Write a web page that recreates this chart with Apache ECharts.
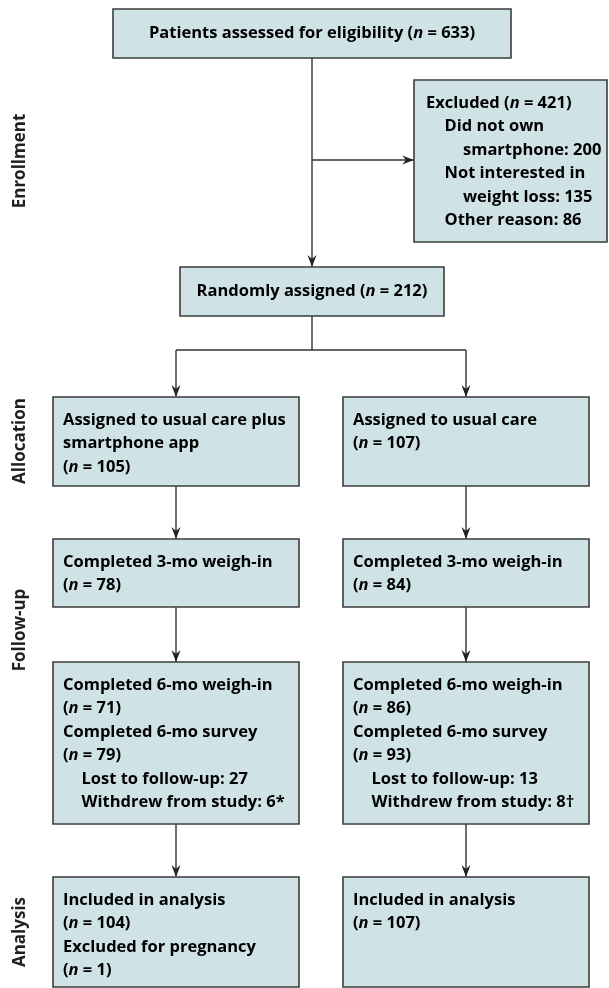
<!DOCTYPE html>
<html>
<head>
<meta charset="utf-8">
<script src="https://cdn.jsdelivr.net/npm/echarts@6/dist/echarts.min.js"></script>
<style>
  html, body { margin: 0; padding: 0; background: #fff; }
  #chart { width: 609px; height: 988px; }
</style>
</head>
<body>
<div id="chart"></div>
<script>
// flow counts
var stages = ['Enrollment', 'Allocation', 'Follow-up', 'Analysis'];
var assessed = 633;
var excluded = 421;
var excludedCounts = [200, 135, 86];
var randomized = 212;
var allocated = [105, 107];
var weighIn3 = [78, 84];
var weighIn6 = [71, 86];
var survey6 = [79, 93];
var lostFollowUp = [27, 13];
var withdrew = ['6*', '8\u2020'];
var analysed = [104, 107];
var pregnancy = [1];

// text helpers, {i|n} is the italic n
function t(s) { return '{b|' + s + '}'; }
function n(pre, val) { return '{b|' + pre + '(}{i|n}{b| = ' + val + ')}'; }

// layout: x0, y0, x1, y1 in page pixels; lines = [text, indent]
var colL = [53, 299], colR = [343, 589];
var boxes = [
  { x0: 113, y0: 9, x1: 511, y1: 58, center: true,
    lines: [[n('Patients assessed for eligibility ', assessed), 0]] },
  { x0: 414, y0: 80, x1: 607, y1: 242,
    lines: [[n('Excluded ', excluded), 0], [t('Did not own'), 1], [t('smartphone: ' + excludedCounts[0]), 2],
            [t('Not interested in'), 1], [t('weight loss: ' + excludedCounts[1]), 2], [t('Other reason: ' + excludedCounts[2]), 1]] },
  { x0: 180, y0: 267, x1: 444, y1: 316, center: true,
    lines: [[n('Randomly assigned ', randomized), 0]] },
  { x0: colL[0], y0: 397, x1: colL[1], y1: 486,
    lines: [[t('Assigned to usual care plus'), 0], [t('smartphone app'), 0], [n('', allocated[0]), 0]] },
  { x0: colR[0], y0: 397, x1: colR[1], y1: 486,
    lines: [[t('Assigned to usual care'), 0], [n('', allocated[1]), 0]] },
  { x0: colL[0], y0: 539, x1: colL[1], y1: 607,
    lines: [[t('Completed 3-mo weigh-in'), 0], [n('', weighIn3[0]), 0]] },
  { x0: colR[0], y0: 539, x1: colR[1], y1: 607,
    lines: [[t('Completed 3-mo weigh-in'), 0], [n('', weighIn3[1]), 0]] },
  { x0: colL[0], y0: 662, x1: colL[1], y1: 824,
    lines: [[t('Completed 6-mo weigh-in'), 0], [n('', weighIn6[0]), 0], [t('Completed 6-mo survey'), 0], [n('', survey6[0]), 0],
            [t('Lost to follow-up: ' + lostFollowUp[0]), 1], [t('Withdrew from study: ' + withdrew[0]), 1]] },
  { x0: colR[0], y0: 662, x1: colR[1], y1: 824,
    lines: [[t('Completed 6-mo weigh-in'), 0], [n('', weighIn6[1]), 0], [t('Completed 6-mo survey'), 0], [n('', survey6[1]), 0],
            [t('Lost to follow-up: ' + lostFollowUp[1]), 1], [t('Withdrew from study: ' + withdrew[1]), 1]] },
  { x0: colL[0], y0: 877, x1: colL[1], y1: 987,
    lines: [[t('Included in analysis'), 0], [n('', analysed[0]), 0], [t('Excluded for pregnancy'), 0], [n('', pregnancy[0]), 0]] },
  { x0: colR[0], y0: 877, x1: colR[1], y1: 987,
    lines: [[t('Included in analysis'), 0], [n('', analysed[1]), 0]] }
];
var stageY = [161, 441, 630, 932];

function mid(b) { return (b.x0 + b.x1) / 2; }

// connectors: [x1, y1, x2, y2, arrow]
var splitY = 350;
var links = [
  [mid(boxes[0]), boxes[0].y1, mid(boxes[0]), boxes[2].y0, 1],
  [mid(boxes[0]), 160, boxes[1].x0, 160, 1],
  [mid(boxes[0]), boxes[2].y1, mid(boxes[0]), splitY, 0],
  [mid(boxes[3]), splitY, mid(boxes[4]), splitY, 0],
  [mid(boxes[3]), splitY, mid(boxes[3]), boxes[3].y0, 1],
  [mid(boxes[4]), splitY, mid(boxes[4]), boxes[4].y0, 1]
];
for (var k = 3; k <= 7; k += 2) {
  links.push([mid(boxes[k]), boxes[k].y1, mid(boxes[k + 2]), boxes[k + 2].y0, 1]);
  links.push([mid(boxes[k + 1]), boxes[k + 1].y1, mid(boxes[k + 3]), boxes[k + 3].y0, 1]);
}

var FONT = '"Open Sans", "DejaVu Sans", sans-serif';
var INK = '#231f20';
var SIZE = 16.5;
var rich = {
  b: { fontFamily: FONT, fontWeight: 'bold', fontSize: SIZE, color: INK },
  i: { fontFamily: FONT, fontWeight: 'bold', fontStyle: 'italic', fontSize: SIZE, color: INK }
};

function renderBox(params, api) {
  var b = boxes[params.dataIndex];
  var p0 = api.coord([b.x0, b.y0]);
  var p1 = api.coord([b.x1, b.y1]);
  var kids = [{
    type: 'rect',
    shape: { x: p0[0], y: p0[1], width: p1[0] - p0[0], height: p1[1] - p0[1] },
    style: { fill: '#cfe2e5', stroke: '#3d3d3d', lineWidth: 1.6 }
  }];
  for (var i = 0; i < b.lines.length; i++) {
    var ln = b.lines[i];
    var x, y;
    if (b.center) {
      x = (p0[0] + p1[0]) / 2;
      y = (p0[1] + p1[1]) / 2;
    } else {
      x = p0[0] + (b.x0 > 400 ? 12 : 10) + ln[1] * 18.5;
      y = p0[1] + 23 + i * 23.5;
    }
    kids.push({
      type: 'text', x: x, y: y,
      style: { text: ln[0], rich: rich, align: b.center ? 'center' : 'left', verticalAlign: 'middle' }
    });
  }
  return { type: 'group', children: kids };
}

function renderLink(params, api) {
  var l = links[params.dataIndex];
  var a = api.coord([l[0], l[1]]);
  var c = api.coord([l[2], l[3]]);
  var kids = [{
    type: 'line',
    shape: { x1: a[0], y1: a[1], x2: c[0], y2: c[1] },
    style: { stroke: '#333', lineWidth: 1.4 }
  }];
  if (l[4]) {
    var dx = c[0] - a[0], dy = c[1] - a[1];
    var len = Math.sqrt(dx * dx + dy * dy);
    var ux = dx / len, uy = dy / len;
    var L = 12, W = 4.5, N = 8;
    kids.push({
      type: 'polygon',
      shape: { points: [
        [c[0], c[1]],
        [c[0] - ux * L - uy * W, c[1] - uy * L + ux * W],
        [c[0] - ux * N, c[1] - uy * N],
        [c[0] - ux * L + uy * W, c[1] - uy * L - ux * W]
      ] },
      style: { fill: '#222' }
    });
  }
  return { type: 'group', children: kids };
}

function renderStage(params, api) {
  var p = api.coord([20, stageY[params.dataIndex]]);
  return {
    type: 'text', x: p[0], y: p[1], rotation: Math.PI / 2,
    style: { text: stages[params.dataIndex], fontFamily: FONT, fontWeight: 'bold', fontSize: 17,
             fill: INK, align: 'center', verticalAlign: 'middle' }
  };
}

var chart = echarts.init(document.getElementById('chart'), null, { renderer: 'canvas' });
chart.setOption({
  animation: false,
  backgroundColor: '#fff',
  grid: { left: 0, right: 0, top: 0, bottom: 0 },
  xAxis: { type: 'value', min: 0, max: 609, show: false },
  yAxis: { type: 'value', min: 0, max: 988, inverse: true, show: false },
  series: [
    {
      type: 'custom', name: 'links', renderItem: renderLink,
      data: links.map(function (l) { return [l[0], l[1], l[2], l[3]]; })
    },
    {
      type: 'custom', name: 'boxes', renderItem: renderBox,
      data: boxes.map(function (b) { return [b.x0, b.y0, b.x1, b.y1]; })
    },
    {
      type: 'custom', name: 'stages', renderItem: renderStage,
      data: stageY.map(function (y) { return [20, y]; })
    }
  ]
});
</script>
</body>
</html>
